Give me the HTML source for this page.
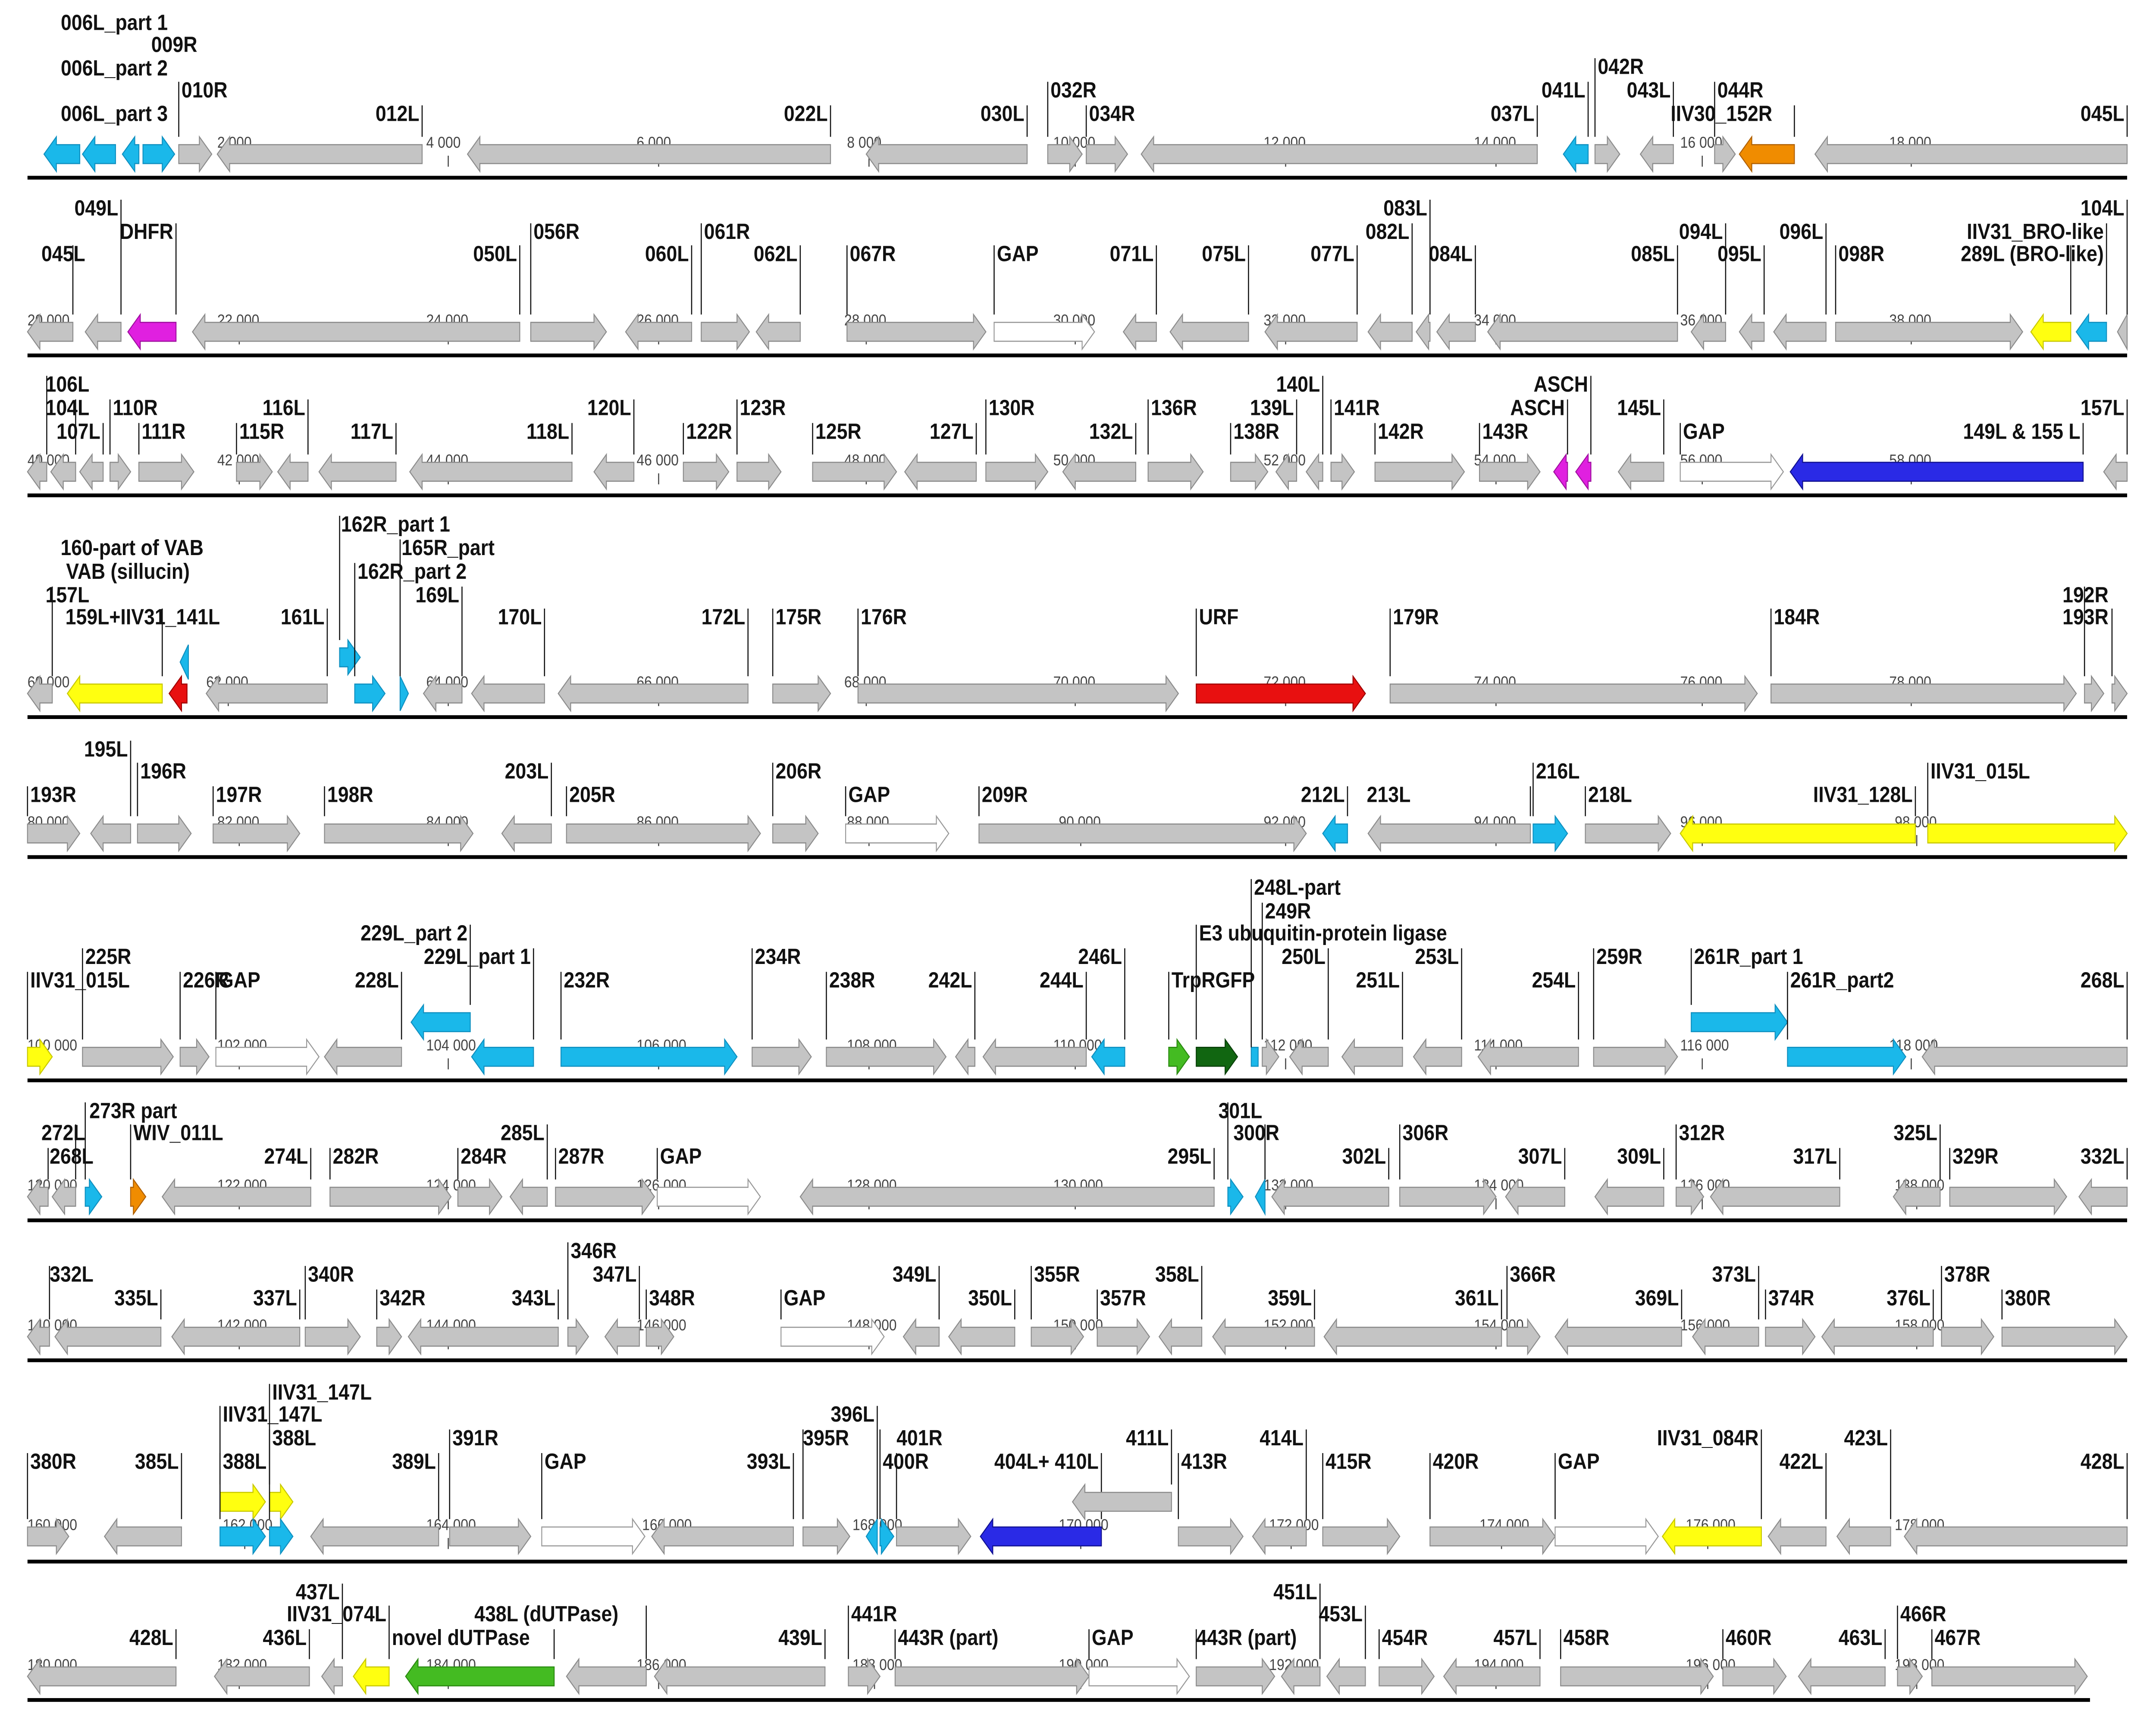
<!DOCTYPE html>
<html><head><meta charset="utf-8"><style>
html,body{margin:0;padding:0;background:#fff;overflow:hidden;width:100vw;height:100vh;}
svg{display:block;width:100vw;height:100vh;}
text{font-family:"Liberation Sans",Arial,sans-serif;}
</style></head><body>
<svg id="s" xmlns="http://www.w3.org/2000/svg" viewBox="0 0 1568 1102" preserveAspectRatio="none">
<rect width="1568" height="1102" fill="#fff"/>
<g id="g"></g>
</svg>
<script>
var C={g:'#c4c4c4',c:'#1ab8ea',y:'#ffff10',m:'#e020e0',o:'#f08c00',r:'#e81010',b:'#2a2ae6',G:'#44bb22',D:'#116611',w:'#ffffff'};
var S={g:'#8c8c8c',c:'#1090c0',y:'#c8c800',m:'#a010a0',o:'#b06000',r:'#a00000',b:'#101090',G:'#2a8a10',D:'#0a400a',w:'#999'};
var rows=[
{cy:98,ln:113,end:1547,t0:0,tx:[158,310,463,616,766,919,1072,1222,1374],g:[
[32,58,'L','c'],[60,84,'L','c'],[89,101,'L','c'],[104,127,'R','c'],
[0,0,'N','', '006L_part 1',19,122,'end'],[0,0,'N','','009R',33,110,'start'],[0,0,'N','','006L_part 2',48,122,'end'],[0,0,'N','','006L_part 3',77,122,'end'],
[130,154,'R','g','010R',62],[158,307,'L','g','012L',77],[340,604,'L','g','022L',77],[630,747,'L','g','030L',77],
[762,787,'R','g','032R',62],[790,820,'R','g','034R',77],[830,1118,'L','g','037L',77],[1137,1155,'L','c','041L',62],
[1160,1178,'R','g','042R',47],[1193,1217,'L','g','043L',62],[1247,1262,'R','g','044R',62],[1265,1305,'L','o','IIV30_152R',77,1215,'start'],
[1320,1547,'L','g','045L',77]]},
{cy:211,ln:226,end:1547,t0:20000,tx:[20,158,310,463,614,766,919,1072,1222,1374],g:[
[20,53,'L','g','045L',166,62,'end'],[62,88,'L','g','049L',137],[93,128,'L','m','DHFR',152],[140,378,'L','g','050L',166],
[386,441,'R','g','056R',152],[455,503,'L','g','060L',166],[510,545,'R','g','061R',152],[550,582,'L','g','062L',166],
[616,717,'R','g','067R',166],[723,796,'R','w','GAP',166],[817,841,'L','g','071L',166],[851,908,'L','g','075L',166],
[920,987,'L','g','077L',166],[995,1027,'L','g','082L',152],[1030,1040,'L','g','083L',137],[1045,1073,'L','g','084L',166],
[1082,1220,'L','g','085L',166],[1230,1255,'L','g','094L',152],[1265,1283,'L','g','095L',166],[1290,1328,'L','g','096L',152],
[1335,1471,'R','g','098R',166],[1477,1506,'L','y','289L (BRO-like)',166,1530,'end'],[1510,1532,'L','c','IIV31_BRO-like',152],[1540,1547,'L','g','104L',137]]},
{cy:300,ln:315,end:1547,t0:40000,tx:[20,158,310,463,614,766,919,1072,1222,1374],g:[
[20,34,'L','g','106L',249,65,'end'],[37,55,'L','g','104L',264,65,'end'],[58,75,'L','g','107L',279],[80,95,'R','g','110R',264],
[101,141,'R','g','111R',279],[172,198,'R','g','115R',279],[202,224,'L','g','116L',264],[232,288,'L','g','117L',279],
[298,416,'L','g','118L',279],[432,461,'L','g','120L',264],[497,530,'R','g','122R',279],[536,568,'R','g','123R',264],
[591,652,'R','g','125R',279],[658,710,'L','g','127L',279],[717,762,'R','g','130R',264],[773,826,'L','g','132L',279],
[835,875,'R','g','136R',264],[895,922,'R','g','138R',279],[928,943,'L','g','139L',264],[950,962,'L','g','140L',249],
[968,985,'R','g','141R',264],[1000,1065,'R','g','142R',279],[1076,1120,'R','g','143R',279],[1130,1140,'L','m','ASCH',264],
[1146,1157,'L','m','ASCH',249],[1177,1210,'L','g','145L',264],[1222,1297,'R','w','GAP',279],[1302,1515,'L','b','149L & 155 L',279],
[1530,1547,'L','g','157L',264]]},
{cy:441,ln:456,end:1547,t0:60000,tx:[20,150,310,463,614,766,919,1072,1222,1374],g:[
[20,38,'L','g','157L',383,65,'end'],[49,118,'L','y','159L+IIV31_141L',397,160,'end'],[123,136,'L','r'],[131,137,'L','c','',0,0,'',-20],
[0,0,'N','','160-part of VAB',353,148,'end'],[0,0,'N','','VAB (sillucin)',368,138,'end'],
[150,238,'L','g','161L',397],[247,262,'R','c','162R_part 1',338,248,'start',-23],[258,280,'R','c','162R_part 2',368,260,'start'],[291,297,'R','c','165R_part',353,292,'start'],
[308,336,'L','g','169L',383],[343,396,'L','g','170L',397],[406,544,'L','g','172L',397],[562,604,'R','g','175R',397],
[624,857,'R','g','176R',397],[870,993,'R','r','URF',397],[1011,1278,'R','g','179R',397],[1288,1510,'R','g','184R',397],
[1516,1530,'R','g','192R',383,1500,'start'],[1536,1547,'R','g','193R',397,1500,'start']]},
{cy:530,ln:545,end:1547,t0:80000,tx:[20,158,310,463,616,770,919,1072,1222,1378],g:[
[20,58,'R','g','193R',510],[66,95,'L','g','195L',481],[100,139,'R','g','196R',495],[155,218,'R','g','197R',510],
[236,344,'R','g','198R',510],[365,401,'L','g','203L',495],[412,553,'R','g','205R',510],[562,595,'R','g','206R',495],
[615,690,'R','w','GAP',510],[712,950,'R','g','209R',510],[962,980,'L','c','212L',510],[995,1113,'L','g','213L',510,994,'start'],
[1115,1140,'R','c','216L',495],[1153,1215,'R','g','218L',510],[1222,1393,'L','y','IIV31_128L',510],[1402,1547,'R','y','IIV31_015L',495]]},
{cy:672,ln:687,end:1547,t0:100000,tx:[20,158,310,463,616,766,919,1072,1222,1374],g:[
[20,38,'R','y','IIV31_015L',628],[60,126,'R','g','225R',613],[131,152,'R','g','226R',628],[157,232,'R','w','GAP',628],
[236,292,'L','g','228L',628],[299,342,'L','c','229L_part 2',598,0,'',-22],[343,388,'L','c','229L_part 1',613],
[408,536,'R','c','232R',628],[547,590,'R','g','234R',613],[601,688,'R','g','238R',628],[695,709,'L','g','242L',628],
[715,790,'L','g','244L',628],[794,818,'L','c','246L',613],[850,865,'R','G','TrpRGFP',628],[870,900,'R','D','E3 ubuquitin-protein ligase',598],
[910,915,'B','c','248L-part',569],[918,930,'R','g','249R',584],[938,966,'L','g','250L',613],[976,1020,'L','g','251L',628],
[1028,1063,'L','g','253L',613],[1075,1148,'L','g','254L',628],[1159,1220,'R','g','259R',613],[1230,1300,'R','c','261R_part 1',613,0,'',-22],
[1300,1386,'R','c','261R_part2',628],[1398,1547,'L','g','268L',628]]},
{cy:761,ln:776,end:1547,t0:120000,tx:[20,158,310,463,616,766,919,1072,1222,1378],g:[
[20,35,'L','g','268L',740,68,'end'],[38,55,'L','g','272L',725,62,'end'],[62,74,'R','c','273R part',711,65,'start'],[95,106,'R','o','WIV_011L',725,97,'start'],
[118,226,'L','g','274L',740],[240,328,'R','g','282R',740],[333,365,'R','g','284R',740],[371,398,'L','g','285L',725],
[404,476,'R','g','287R',740],[478,553,'R','w','GAP',740],[582,883,'L','g','295L',740],[893,904,'R','c','301L',711,918,'end'],
[913,920,'L','c','300R',725,897,'start'],[925,1010,'L','g','302L',740],[1018,1088,'R','g','306R',725],[1095,1138,'L','g','307L',740],
[1160,1210,'L','g','309L',740],[1219,1239,'R','g','312R',725],[1244,1338,'L','g','317L',740],[1377,1411,'L','g','325L',725],
[1418,1503,'R','g','329R',740],[1512,1547,'L','g','332L',740]]},
{cy:850,ln:865,end:1547,t0:140000,tx:[20,158,310,463,616,766,919,1072,1222,1378],g:[
[20,36,'L','g','332L',815,68,'end'],[40,117,'L','g','335L',830],[125,218,'L','g','337L',830],[222,262,'R','g','340R',815],
[274,292,'R','g','342R',830],[297,406,'L','g','343L',830],[413,428,'R','g','346R',800],[440,465,'L','g','347L',815],
[470,490,'R','g','348R',830],[568,643,'R','w','GAP',830],[657,683,'L','g','349L',815],[690,738,'L','g','350L',830],
[750,788,'R','g','355R',815],[798,836,'R','g','357R',830],[843,874,'L','g','358L',815],[882,956,'L','g','359L',830],
[963,1092,'L','g','361L',830],[1096,1120,'R','g','366R',815],[1131,1223,'L','g','369L',830],[1231,1279,'L','g','373L',815],
[1284,1320,'R','g','374R',830],[1325,1406,'L','g','376L',830],[1412,1450,'R','g','378R',815],[1456,1547,'R','g','380R',830]]},
{cy:977,ln:993,end:1547,t0:160000,tx:[20,162,310,467,620,770,923,1076,1226,1378],g:[
[20,50,'R','g','380R',934],[76,132,'L','g','385L',934],
[160,193,'R','y','IIV31_147L',904,0,'',-22],[196,213,'R','y','IIV31_147L',890,0,'',-22],
[160,193,'R','c','388L',934],[196,213,'R','c','388L',919],
[226,319,'L','g','389L',934],[327,386,'R','g','391R',919],[394,469,'R','w','GAP',934],[474,577,'L','g','393L',934],
[584,618,'R','g','395R',919,584,'start'],[630,638,'L','c','396L',904],[640,650,'R','c','401R',919,652,'start'],[652,706,'R','g','400R',934,642,'start'],
[713,801,'L','b','404L+ 410L',934],[780,852,'L','g','411L',919,0,'',-22],[857,904,'R','g','413R',934],[911,950,'L','g','414L',919],
[962,1018,'R','g','415R',934],[1040,1131,'R','g','420R',934],[1131,1206,'R','w','GAP',934],[1209,1281,'L','y','IIV31_084R',919],
[1286,1328,'L','g','422L',934],[1336,1375,'L','g','423L',919],[1385,1547,'L','g','428L',934]]},
{cy:1066,ln:1081,end:1520,t0:180000,tx:[20,158,310,463,620,770,923,1072,1226,1378],g:[
[20,128,'L','g','428L',1046],[156,225,'L','g','436L',1046],[234,249,'L','g','437L',1017],[257,283,'L','y','IIV31_074L',1031],
[295,403,'L','G','novel dUTPase',1046,285,'start'],[412,470,'L','g','438L (dUTPase)',1031,345,'start'],[476,600,'L','g','439L',1046],
[617,640,'R','g','441R',1031],[651,792,'R','g','443R (part)',1046],[792,865,'R','w','GAP',1046],[870,927,'R','g','443R (part)',1046,870,'start'],
[932,960,'L','g','451L',1017],[965,993,'L','g','453L',1031],[1003,1043,'R','g','454R',1046],[1050,1120,'L','g','457L',1046],
[1135,1246,'R','g','458R',1046],[1253,1299,'R','g','460R',1046],[1308,1371,'L','g','463L',1046],[1380,1398,'R','g','466R',1031],
[1405,1518,'R','g','467R',1046]]}
];
var NS='http://www.w3.org/2000/svg',G=document.getElementById('g');
function el(t,a,txt){var e=document.createElementNS(NS,t);for(var k in a)e.setAttribute(k,a[k]);if(txt!=null)e.textContent=txt;G.appendChild(e);return e;}
function fmt(n){var s=String(n);return s.replace(/\B(?=(\d{3})+(?!\d))/g,' ');}
rows.forEach(function(r){
  el('rect',{x:20,y:r.ln-1.2,width:r.end-20,height:2.4,fill:'#000'});
  r.tx.forEach(function(x,i){
    var v=r.t0+(r.t0==0?(i+1):i)*2000;
    el('text',{x:x,y:r.cy-4,'font-size':10,fill:'#444'},fmt(v));
    if(i>0)el('line',{x1:x+16,y1:r.cy+1,x2:x+16,y2:r.cy+8,stroke:'#444','stroke-width':.8});
  });
  r.g.forEach(function(d){
    var x1=d[0],x2=d[1],dir=d[2],col=d[3],lab=d[4],ly=d[5],lx=d[6],anc=d[7],off=d[8]||0;
    var cy=r.cy+off;
    if(dir!=='N'){
      var hl=Math.min(9,(x2-x1)),bh=6,hh=11,p;
      if(dir==='R')p=[[x1,cy-bh],[x2-hl,cy-bh],[x2-hl,cy-hh],[x2,cy],[x2-hl,cy+hh],[x2-hl,cy+bh],[x1,cy+bh]];
      else if(dir==='L')p=[[x2,cy-bh],[x1+hl,cy-bh],[x1+hl,cy-hh],[x1,cy],[x1+hl,cy+hh],[x1+hl,cy+bh],[x2,cy+bh]];
      else p=[[x1,cy-bh],[x2,cy-bh],[x2,cy+bh],[x1,cy+bh]];
      el('polygon',{points:p.map(function(q){return q.join(',')}).join(' '),fill:C[col],stroke:S[col],'stroke-width':.7});
    }
    if(lab){
      var lnx=(dir==='L')?x2:x1;
      var a=anc||(dir==='L'?'end':'start');
      var tx=lx?lx:(a==='end'?lnx-2:lnx+2);
      if(dir!=='N')el('line',{x1:lnx,y1:ly-10,x2:lnx,y2:cy-(dir==='B'?6:11),stroke:'#111','stroke-width':.8});
      el('text',{x:tx,y:ly,'font-size':14,'font-weight':'bold','text-anchor':a,fill:'#111'},lab);
    }
  });
});
</script>
</body></html>
